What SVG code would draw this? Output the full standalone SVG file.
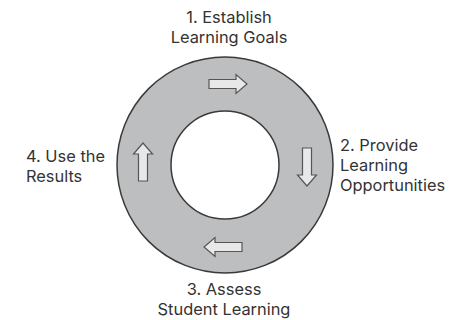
<svg xmlns="http://www.w3.org/2000/svg" width="470" height="320" viewBox="0 0 470 320">
  <defs>
    <style>
      .ring { fill: #bdbec0; stroke: #3a3a3a; stroke-width: 1.5; }
      .hole { fill: #ffffff; stroke: #3a3a3a; stroke-width: 1.5; }
      .arrow { fill: #e8e8e8; stroke: #555555; stroke-width: 1.2; stroke-linejoin: miter; }
      .label { font-family: Inter, "Open Sans", "Liberation Sans", sans-serif; font-size: 16.4px; fill: #333333; }
      .mid { text-anchor: middle; }
    </style>
    <!-- block arrow pointing right, centred on the origin -->
    <path id="blockArrow" d="M -19 -4.5 L 8 -4.5 L 8 -9.5 L 19 0 L 8 9.5 L 8 4.5 L -19 4.5 Z"/>
  </defs>

  <!-- cycle ring -->
  <g id="cycle">
    <circle class="ring" cx="225" cy="165" r="108"/>
    <circle class="hole" cx="225" cy="165" r="54"/>
  </g>

  <!-- direction arrows around the ring -->
  <g id="connectors">
    <use href="#blockArrow" class="arrow" transform="translate(228,84)"/>
    <use href="#blockArrow" class="arrow" transform="translate(307,167) rotate(90)"/>
    <use href="#blockArrow" class="arrow" transform="translate(223,247) rotate(180)"/>
    <use href="#blockArrow" class="arrow" transform="translate(143,162) rotate(-90)"/>
  </g>

  <g id="step1">
    <text class="label mid" x="229" y="23">1. Establish</text>
    <text class="label mid" x="229" y="43">Learning Goals</text>
  </g>
  <g id="step2">
    <text class="label" x="340" y="151">2. Provide</text>
    <text class="label" x="340" y="171">Learning</text>
    <text class="label" x="340" y="191">Opportunities</text>
  </g>
  <g id="step3">
    <text class="label mid" x="224" y="295">3. Assess</text>
    <text class="label mid" x="224" y="315">Student Learning</text>
  </g>
  <g id="step4">
    <text class="label" x="26" y="162">4. Use the</text>
    <text class="label" x="26" y="182">Results</text>
  </g>
</svg>
